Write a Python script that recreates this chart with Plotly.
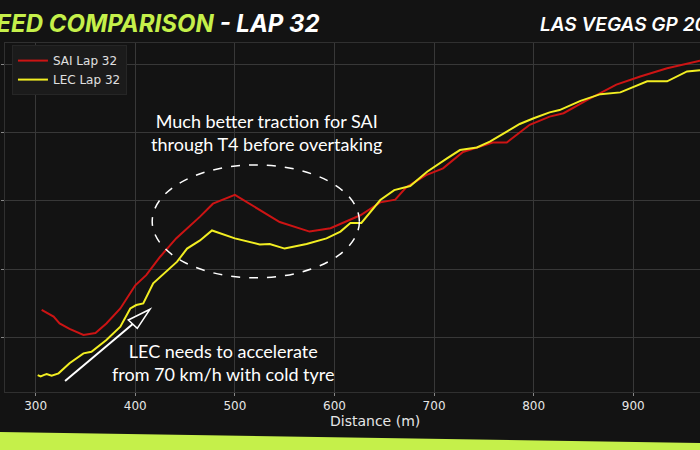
import plotly.graph_objects as go

# ---- data ----
sai_dist = [306, 312, 318, 324, 334, 348, 360, 371, 385, 400, 411, 425, 441, 465, 478, 500,
            522, 545, 575, 596, 626, 646, 661, 672, 692, 709, 729, 743, 759, 773, 796, 816,
            830, 853, 883, 907, 934, 967]
sai_speed = [120, 117.5, 115, 110, 106, 101.5, 103, 110, 121, 138, 145.5, 159, 172.5, 188.5, 198, 204.5,
             194.5, 184.5, 177.5, 180, 189.5, 199, 201, 210, 219, 224, 236, 239, 243, 243, 256, 262,
             264.5, 274, 285.5, 291.5, 297.5, 303]

lec_dist = [302, 305, 308, 311, 316, 323, 334, 348, 356, 371, 385, 395, 401, 408, 418, 432, 442,
            452, 465, 477, 500, 525, 535, 550, 572, 592, 606, 616, 627, 646, 660, 676, 693, 713,
            726, 743, 756, 773, 786, 800, 816, 826, 847, 867, 887, 914, 934, 954, 967]
lec_speed = [72, 71, 72, 72.8, 71.5, 73.3, 80.7, 88, 89.2, 97.8, 107.6, 121, 123.5, 124.7, 139.5, 149, 155.4,
             165, 171, 178.3, 172.5, 168, 168.4, 165, 168.4, 172.5, 177.5, 183.8, 183.8, 200.7, 208, 211, 221.5, 231.3,
             237.4, 239.3, 243.6, 251, 256.6, 260.8, 265.1, 266.8, 273.6, 278.5, 279.8, 287.9, 287.9, 295.2, 296]

x_ticks = [300, 400, 500, 600, 700, 800, 900]
y_ticks = [100, 150, 200, 250, 300]

BG = "#131313"
GREEN = "#c5f04a"
RED = "#cc1414"
YELLOW = "#f2ee22"

fig = go.Figure()
fig.add_trace(go.Scatter(x=sai_dist, y=sai_speed, mode="lines", name="SAI Lap 32",
                         line=dict(color=RED, width=2)))
fig.add_trace(go.Scatter(x=lec_dist, y=lec_speed, mode="lines", name="LEC Lap 32",
                         line=dict(color=YELLOW, width=2)))

# ellipse highlight
fig.add_shape(type="circle", xref="x", yref="y", x0=417, x1=625, y0=143.5, y1=226.5,
              line=dict(color="white", width=1.5, dash="dash"), layer="above")

# arrow (open head)
fig.add_shape(type="line", xref="x", yref="y", x0=329.5, y0=67.7, x1=397.5, y1=109.5,
              line=dict(color="white", width=2))
fig.add_shape(type="path", xref="x", yref="y",
              path="M 414.8 120.4 L 393.0 112.5 L 402.0 106.4 Z",
              line=dict(color="white", width=1.5), fillcolor=BG)

ann_font = dict(family="Lato, sans-serif", size=18, color="white")
fig.add_annotation(xref="x", yref="y", x=532, y=250.4, yanchor="middle",
                   text="Much better traction for SAI<br>through T4 before overtaking",
                   showarrow=False, font=ann_font, align="center")
fig.add_annotation(xref="x", yref="y", x=489, y=81.3, yanchor="middle",
                   text="LEC needs to accelerate<br>from 70 km/h with cold tyre",
                   showarrow=False, font=ann_font, align="center")

# titles
fig.add_annotation(xref="paper", yref="paper", x=0.4576, y=1.056, xanchor="right", yanchor="middle",
                   text="<b><i><span style='color:%s'>SPEED COMPARISON</span> - LAP 32</i></b>" % GREEN,
                   showarrow=False, font=dict(family="Inter, sans-serif", size=24, color="white"))
fig.add_annotation(xref="paper", yref="paper", x=0.767, y=1.053, xanchor="left", yanchor="middle",
                   text="<i>LAS VEGAS GP 2023</i>",
                   showarrow=False, font=dict(family="Inter, sans-serif", size=19, color="white", weight=600))
fig.add_annotation(xref="paper", yref="paper", x=(375 - 5) / 695, y=-0.083, xanchor="center", yanchor="middle",
                   text="Distance (m)", showarrow=False,
                   font=dict(family="DejaVu Sans", size=14, color="#e6e6e6"))

# bottom green band
fig.add_shape(type="path", xref="paper", yref="paper",
              path="M -0.01 -0.1146 L 1.0 -0.1461 L 1.0 -0.2 L -0.01 -0.2 Z",
              fillcolor=GREEN, line=dict(width=0), layer="above")

fig.update_layout(
    width=700, height=450,
    paper_bgcolor=BG, plot_bgcolor=BG,
    margin=dict(l=5, r=0, t=43, b=58),
    showlegend=True,
    legend=dict(x=0.01, y=0.994, xanchor="left", yanchor="top",
                bgcolor="#1b1b1b", bordercolor="#262626", borderwidth=1,
                font=dict(family="DejaVu Sans", size=12, color="#e0e0e0"),
                tracegroupgap=2),
    xaxis=dict(range=[269.2, 967], tickvals=x_ticks, showgrid=True, gridcolor="#383838", gridwidth=1,
               zeroline=False, showline=True, linecolor="#303030", mirror=True,
               ticks="outside", ticklen=3, tickcolor="#888888",
               tickfont=dict(family="DejaVu Sans", size=12, color="#e6e6e6")),
    yaxis=dict(range=[59.6, 316.1], tickvals=y_ticks, showgrid=True, gridcolor="#383838", gridwidth=1,
               zeroline=False, showline=True, linecolor="#303030", mirror=True,
               ticks="outside", ticklen=3, tickcolor="#888888", showticklabels=False),
)

fig.write_html("out.html", config={"displayModeBar": False},
               post_script="document.body.style.margin='0';document.body.style.background='%s';" % BG)
